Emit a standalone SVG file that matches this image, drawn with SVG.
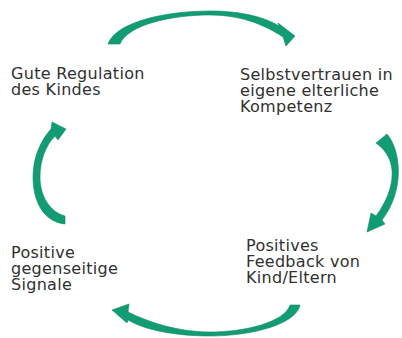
<svg xmlns="http://www.w3.org/2000/svg" width="402" height="338" viewBox="0 0 402 338">
<style>
.lbl{font-family:"DejaVu Sans","Liberation Sans",Arial,sans-serif;font-size:16px;fill:#303030;letter-spacing:0.3px}
.arr{fill:#129c73;stroke:#0d8a63;stroke-width:0.6;stroke-linejoin:round}
</style>
<rect width="402" height="338" fill="#ffffff"/>
<g id="connectors">
<path class="arr" d="M108,44 C116,22 165,11 210,11 C244,11 266,18 279,26 L278,23 L295,36 L286,46 L283,37 C268,27 244,15 210,15 C170,15 128,25 120,44 Z"/>
<path class="arr" d="M376,143 L387,134 C402,152 404,192 382,220 L385,224 L367,232 L371,213 L376,216 C395,190 400,160 376,143 Z"/>
<path class="arr" d="M300,305 C296,325 250,336 210,336 C175,336 145,330 128,320 L127,323 L112,310 L129,304 L128,312 C148,322 178,332 210,332 C245,332 285,322 290,305 Z"/>
<path class="arr" d="M65,224 L65,216 C50,212 40,196 40,177 C40,160 46,145 55,136 L58,140 L66,129 L52,122 L51,129 C41,140 33,157 33,177 C33,202 44,222 65,224 Z"/>
</g>
<g id="node-regulation">
<text class="lbl" x="11" y="79"><tspan x="11">Gute Regulation</tspan><tspan x="11" dy="16">des Kindes</tspan></text>
</g>
<g id="node-selbstvertrauen">
<text class="lbl" x="240" y="80"><tspan x="240">Selbstvertrauen in</tspan><tspan x="240" dy="16">eigene elterliche</tspan><tspan x="240" dy="16">Kompetenz</tspan></text>
</g>
<g id="node-feedback">
<text class="lbl" x="246" y="251"><tspan x="246">Positives</tspan><tspan x="246" dy="16">Feedback von</tspan><tspan x="246" dy="16">Kind/Eltern</tspan></text>
</g>
<g id="node-signale">
<text class="lbl" x="11" y="258"><tspan x="11">Positive</tspan><tspan x="11" dy="16">gegenseitige</tspan><tspan x="11" dy="16">Signale</tspan></text>
</g>
</svg>
